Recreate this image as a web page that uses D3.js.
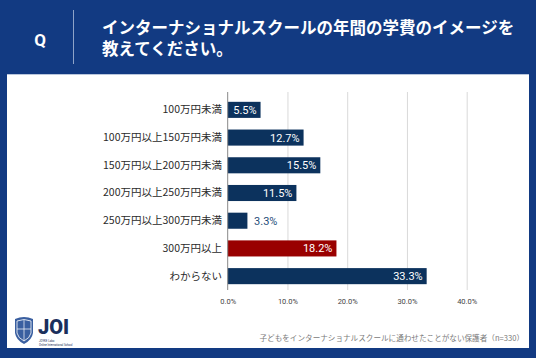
<!DOCTYPE html>
<html><head><meta charset="utf-8">
<script src="https://cdn.jsdelivr.net/npm/d3@7"></script>
<style>html,body{margin:0;padding:0;background:#123a82;}svg{display:block;}</style>
</head><body>
<script>
const categories = ["100万円未満","100万円以上150万円未満","150万円以上200万円未満","200万円以上250万円未満","250万円以上300万円未満","300万円以上","わからない"];
const values = [5.5, 12.7, 15.5, 11.5, 3.3, 18.2, 33.3];
const barColors = ["#0c325d","#0c325d","#0c325d","#0c325d","#0c325d","#990000","#0c325d"];
const tickValues = [0, 10, 20, 30, 40];
const titleLines = ["インターナショナルスクールの年間の学費のイメージを","教えてください。"];
const note = "子どもをインターナショナルスクールに通わせたことがない保護者（n=330）";

const W = 536, H = 358;
const font = "'Noto Sans CJK JP','Noto Sans',sans-serif";
const svg = d3.select("body").append("svg").attr("width", W).attr("height", H);

svg.append("rect").attr("width", W).attr("height", H).attr("fill", "#123a82");
// header
svg.append("text").attr("x", 40).attr("y", 46).attr("text-anchor", "middle")
  .attr("fill", "#fff").attr("font-family", "Roboto, sans-serif").attr("font-weight", "bold").attr("font-size", 17).text("Q");
svg.append("line").attr("x1", 73.5).attr("x2", 73.5).attr("y1", 10).attr("y2", 64).attr("stroke", "#8ea3c8").attr("stroke-width", 1);
const title = svg.append("text").attr("x", 102).attr("y", 34)
  .attr("fill", "#fff").attr("font-family", font).attr("font-weight", "bold").attr("font-size", 16.5);
title.selectAll("tspan").data(titleLines).join("tspan")
  .attr("x", 102).attr("dy", (d, i) => i === 0 ? 0 : 20.5).text(d => d);

// white panel
svg.append("rect").attr("x", 7).attr("y", 74).attr("width", 522).attr("height", 274).attr("fill", "#fff");
svg.append("line").attr("x1", 7).attr("x2", 529).attr("y1", 74.5).attr("y2", 74.5).attr("stroke", "#b9c6dc");

const x = d3.scaleLinear().domain([0, 40]).range([227.7, 466.7]);
const y = d3.scaleBand().domain(categories).range([96, 290]).paddingInner(0.42).paddingOuter(0.21);

// grid
svg.append("g").selectAll("line").data(tickValues.slice(1)).join("line")
  .attr("x1", d => x(d) + 0.5).attr("x2", d => x(d) + 0.5).attr("y1", 92).attr("y2", 290)
  .attr("stroke", "#d9d9d9").attr("stroke-width", 1);

// bars
svg.append("g").selectAll("rect").data(values).join("rect")
  .attr("x", x(0)).attr("y", (d, i) => y(categories[i]))
  .attr("width", d => x(d) - x(0)).attr("height", y.bandwidth())
  .attr("fill", (d, i) => barColors[i]);

// axis line
svg.append("line").attr("x1", x(0)).attr("x2", x(0)).attr("y1", 92).attr("y2", 290).attr("stroke", "#888").attr("stroke-width", 1);

// x axis
const xAxis = d3.axisBottom(x).tickValues(tickValues).tickFormat(d => d.toFixed(1) + "%").tickSize(0).tickPadding(0);
const gx = svg.append("g").attr("transform", "translate(0,299)").call(xAxis);
gx.select(".domain").remove();
gx.selectAll("text").attr("font-family", "Roboto, sans-serif").attr("font-size", 7.5).attr("fill", "#444").attr("dy", "0.71em");

// y axis labels
const yAxis = d3.axisLeft(y).tickSize(0).tickPadding(0);
const gy = svg.append("g").attr("transform", "translate(222,0)").call(yAxis);
gy.select(".domain").remove();
gy.selectAll("text").attr("font-family", font).attr("font-size", 10.5).attr("fill", "#2a2a2a");

// value labels
svg.append("g").selectAll("text").data(values).join("text")
  .attr("x", d => (x(d) - x(0) > 30) ? x(d) - 4 : x(d) + 30)
  .attr("y", (d, i) => y(categories[i]) + y.bandwidth() / 2)
  .attr("dy", "0.36em")
  .attr("text-anchor", "end")
  .attr("fill", d => (x(d) - x(0) > 30) ? "#fff" : "#1f4e79")
  .attr("font-family", "Roboto, sans-serif").attr("font-size", 11)
  .text(d => d.toFixed(1) + "%");

// note
svg.append("text").attr("x", 524).attr("y", 341).attr("text-anchor", "end")
  .attr("fill", "#7a7a7a").attr("font-family", font).attr("font-size", 7.6).text(note);

// logo
const logo = svg.append("g").attr("transform", "translate(15,316)");
logo.append("path").attr("d", "M0,3 Q9,-1 18,3 L18,17 Q17,24 9,28 Q1,24 0,17 Z").attr("fill", "#3a5fa0");
logo.append("path").attr("d", "M2,5 Q9,2 16,5 L16,17 Q15,22 9,25 Q3,22 2,17 Z").attr("fill", "none").attr("stroke", "#fff").attr("stroke-width", 0.8);
logo.append("line").attr("x1", 9).attr("x2", 9).attr("y1", 4).attr("y2", 25).attr("stroke", "#fff").attr("stroke-width", 0.7);
logo.append("line").attr("x1", 2).attr("x2", 16).attr("y1", 13).attr("y2", 13).attr("stroke", "#fff").attr("stroke-width", 0.7);
svg.append("text").attr("x", 38).attr("y", 334).attr("fill", "#1b2f5c").attr("font-family", "Roboto, sans-serif")
  .attr("font-weight", "900").attr("font-size", 20).text("JOI");
svg.append("text").attr("x", 39).attr("y", 342).attr("fill", "#1b2f5c").attr("font-family", "Roboto, sans-serif").attr("font-size", 2.8).text("JOYKE Labo");
svg.append("text").attr("x", 39).attr("y", 345.5).attr("fill", "#1b2f5c").attr("font-family", "Roboto, sans-serif").attr("font-size", 2.8).text("Online International School");
</script>
</body></html>
